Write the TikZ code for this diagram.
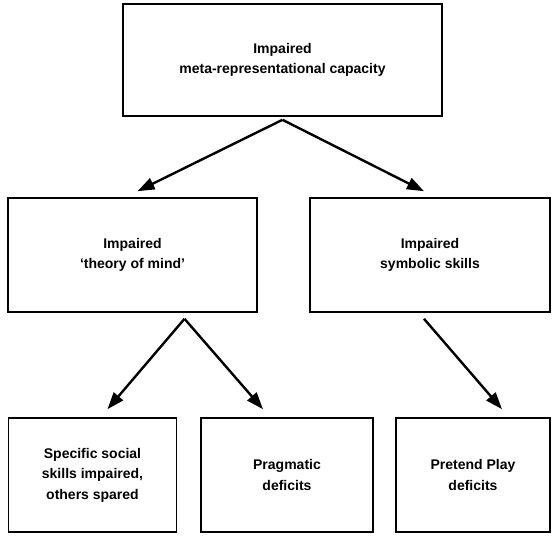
\documentclass[tikz,border=0pt]{standalone}
\usepackage{fontspec}
\setmainfont{Liberation Sans}
\usetikzlibrary{arrows.meta}
\tikzset{
  box/.style={draw, line width=1.6pt, rectangle, align=center, inner sep=0pt,
    font=\bfseries\fontsize{14}{20.5}\selectfont},
  arr/.style={line width=2.4pt, -{Triangle[length=17pt,width=12pt]}}
}
\begin{document}
\begin{tikzpicture}[x=1pt,y=1pt]
\useasboundingbox (0,0) rectangle (552,-536);
\node[box, minimum width=319pt, minimum height=112pt] (top) at (282.5,-60)
  {Impaired\\meta-representational capacity};
\node[box, minimum width=249pt, minimum height=114pt] (ml) at (132.5,-255)
  {Impaired\\`theory of mind'};
\node[box, minimum width=240pt, minimum height=114pt] (mr) at (430,-255)
  {Impaired\\symbolic skills};
\node[box, minimum width=168pt, minimum height=114pt] (bl) at (92.5,-475)
  {Specific social\\skills impaired,\\others spared};
\node[box, minimum width=172pt, minimum height=114pt] (bm) at (287,-475)
  {Pragmatic\\deficits};
\node[box, minimum width=154pt, minimum height=114pt] (br) at (473,-475)
  {Pretend Play\\deficits};
\draw[arr] ([yshift=-3pt]top.south) -- ([xshift=5pt,yshift=6pt]ml.north);
\draw[arr] ([yshift=-3pt]top.south) -- ([xshift=-6pt,yshift=6pt]mr.north);
\draw[arr] ([xshift=52pt,yshift=-6pt]ml.south) -- ([xshift=15pt,yshift=8pt]bl.north);
\draw[arr] ([xshift=52pt,yshift=-6pt]ml.south) -- ([xshift=-24pt,yshift=8pt]bm.north);
\draw[arr] ([xshift=-6pt,yshift=-6pt]mr.south) -- ([xshift=29pt,yshift=8pt]br.north);
\end{tikzpicture}
\end{document}
